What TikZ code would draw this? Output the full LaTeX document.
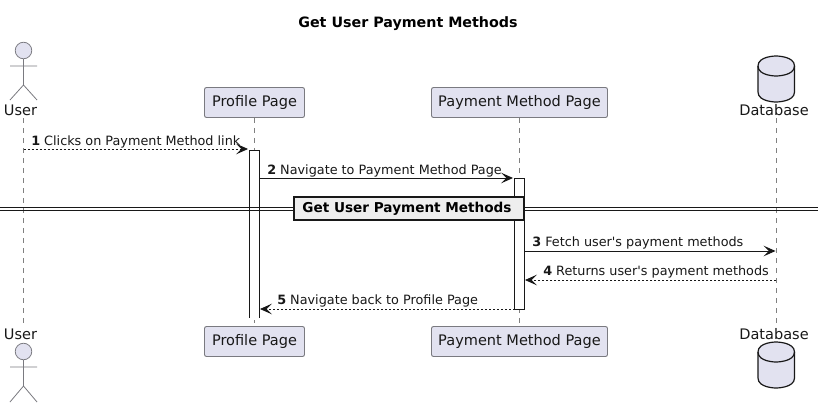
\documentclass[tikz,border=0pt]{standalone}
\usepackage{fontspec}
\setmainfont[Ligatures=TeXOff]{DejaVu Sans}
\usetikzlibrary{arrows.meta}
\definecolor{boxfill}{HTML}{E2E2F0}
\definecolor{ink}{HTML}{181818}
\definecolor{edge}{HTML}{7A7A80}
\definecolor{life}{HTML}{808080}
\definecolor{divfill}{HTML}{EEEEEE}
\newcommand{\msgnum}[2]{{\bfseries #1} #2}
\tikzset{
  x=0.75pt,y=-0.75pt,
  partbox/.style={draw=edge,fill=boxfill,rounded corners=1.5pt,line width=0.7pt,minimum height=22.5pt,inner sep=0pt,font=\fontsize{10.9pt}{12pt}\selectfont,text=ink},
  partlabel/.style={font=\fontsize{10.9pt}{12pt}\selectfont,text=ink,inner sep=0pt,anchor=base},
  msglabel/.style={font=\fontsize{9.6pt}{12pt}\selectfont,text=ink,inner sep=0pt,anchor=base west},
  lifeline/.style={draw=life,line width=0.6pt,dash pattern=on 3.75pt off 3.75pt},
  activation/.style={draw=ink,fill=white,line width=0.75pt,minimum width=7.5pt,inner sep=0pt},
  solidmsg/.style={draw=ink,line width=0.75pt,-{Stealth[length=9pt,width=8pt,inset=4pt,fill=ink]}},
  dashmsg/.style={draw=ink,line width=0.6pt,dash pattern=on 1.5pt off 1.5pt,-{Stealth[length=9pt,width=8pt,inset=4pt,fill=ink,line width=0.6pt,sep=0pt]}},
  actorline/.style={draw=edge,line width=0.6pt},
  actorhead/.style={draw=edge,fill=boxfill,line width=0.6pt,circle,minimum size=12.4pt,inner sep=0pt},
  dbshape/.style={draw=ink,fill=boxfill,line width=0.9pt},
  divline/.style={draw=ink,line width=0.9pt},
  divbox/.style={draw=ink,fill=divfill,line width=1.5pt,inner sep=0pt,text height=9pt,text depth=2pt,font=\bfseries\fontsize{10.2pt}{12pt}\selectfont,text=black}
}
\begin{document}
\begin{tikzpicture}
\useasboundingbox (0,0) rectangle (824,407);
\fill[white] (0,0) rectangle (824,407);
\node[font=\bfseries\fontsize{10.7pt}{12pt}\selectfont,text=black,inner sep=0pt,anchor=base] (title) at (408,27) {Get User Payment Methods};

% participants, top
\node[actorhead] (userhead) at (23.5,50.5) {};
\node[partlabel] (usertop) at (20.5,115) {User};
\node[partbox,minimum width=75pt] (pptop) at (254.5,102.5) {Profile Page};
\node[partbox,minimum width=132pt] (pmtop) at (519.5,102.5) {Payment Method Page};
\node[partlabel] (dbtop) at (774,115) {Database};

% participants, bottom
\node[partlabel] (userbot) at (20.5,339) {User};
\node[actorhead] (userheadb) at (23.5,351.5) {};
\node[partbox,minimum width=75pt] (ppbot) at (254.5,341.5) {Profile Page};
\node[partbox,minimum width=132pt] (pmbot) at (519.5,341.5) {Payment Method Page};
\node[partlabel] (dbbot) at (774,339) {Database};

% lifelines
\coordinate (ul1) at (23.5,118); \coordinate (ul2) at (23.5,323);
\coordinate (dl1) at (776,118); \coordinate (dl2) at (776,323);
\draw[lifeline] (ul1) -- (ul2);
\draw[lifeline] (pptop.south) -- (ppbot.north);
\draw[lifeline] (pmtop.south) -- (pmbot.north);
\draw[lifeline] (dl1) -- (dl2);

% actor figures
\draw[actorline] (userhead.south) -- (23.5,85) (10,66) -- (37,66) (10,100) -- (23.5,85) -- (37,100);
\draw[actorline] (userheadb.south) -- (23.5,386) (10,367) -- (37,367) (10,402) -- (23.5,386) -- (37,402);

% database cylinders
\draw[dbshape] (758,66) .. controls (758,56) and (776,56) .. (776,56) .. controls (776,56) and (794.5,56) .. (794.5,66)
  -- (794.5,92) .. controls (794.5,102) and (776,102) .. (776,102) .. controls (776,102) and (758,102) .. (758,92) -- cycle;
\draw[dbshape,fill=none] (758,66) .. controls (758,76) and (776,76) .. (776,76) .. controls (776,76) and (794.5,76) .. (794.5,66);
\draw[dbshape] (758,352) .. controls (758,342) and (776,342) .. (776,342) .. controls (776,342) and (794.5,342) .. (794.5,352)
  -- (794.5,378) .. controls (794.5,388) and (776,388) .. (776,388) .. controls (776,388) and (758,388) .. (758,378) -- cycle;
\draw[dbshape,fill=none] (758,352) .. controls (758,362) and (776,362) .. (776,362) .. controls (776,362) and (794.5,362) .. (794.5,352);

% activations
\node[activation,minimum height=126.4pt,anchor=north] (actpp) at (254.5,149.5) {};
\node[activation,minimum height=98.25pt,anchor=north] (actpm) at (519.5,178) {};
\draw[white,line width=1.5pt] (actpp.south west) -- (actpp.south east);

% divider
\coordinate (dl) at (0,207.3); \coordinate (dr) at (818,207.3);
\coordinate (dl3) at (0,210.3); \coordinate (dr3) at (818,210.3);
\draw[divline] (dl) -- (dr);
\draw[divline] (dl3) -- (dr3);
\node[divbox,minimum width=172pt,minimum height=17.25pt] (div) at (409,208) {Get User Payment Methods\hspace*{3pt}};

% messages
\coordinate (m1a) at (23.5,149); \coordinate (m1b) at (248,149);
\coordinate (m2a) at (259.5,178); \coordinate (m2b) at (513,178);
\coordinate (m3a) at (524.5,251); \coordinate (m3b) at (775.5,251);
\coordinate (m4a) at (776,280); \coordinate (m4b) at (525,280);
\coordinate (m5a) at (514.5,309); \coordinate (m5b) at (260,309);
\draw[dashmsg] (m1a) -- (m1b);
\draw[solidmsg] (m2a) -- (m2b);
\draw[solidmsg] (m3a) -- (m3b);
\draw[dashmsg] (m4a) -- (m4b);
\draw[dashmsg] (m5a) -- (m5b);
\node[msglabel] (t1) at (31,145) {\msgnum{1}{Clicks on Payment Method link}};
\node[msglabel] (t2) at (267,174) {\msgnum{2}{Navigate to Payment Method Page}};
\node[msglabel] (t3) at (532,246.5) {\msgnum{3}{Fetch user's payment methods}};
\node[msglabel] (t4) at (543,275.5) {\msgnum{4}{Returns user's payment methods}};
\node[msglabel] (t5) at (277,304.5) {\msgnum{5}{Navigate back to Profile Page}};
\end{tikzpicture}
\end{document}
